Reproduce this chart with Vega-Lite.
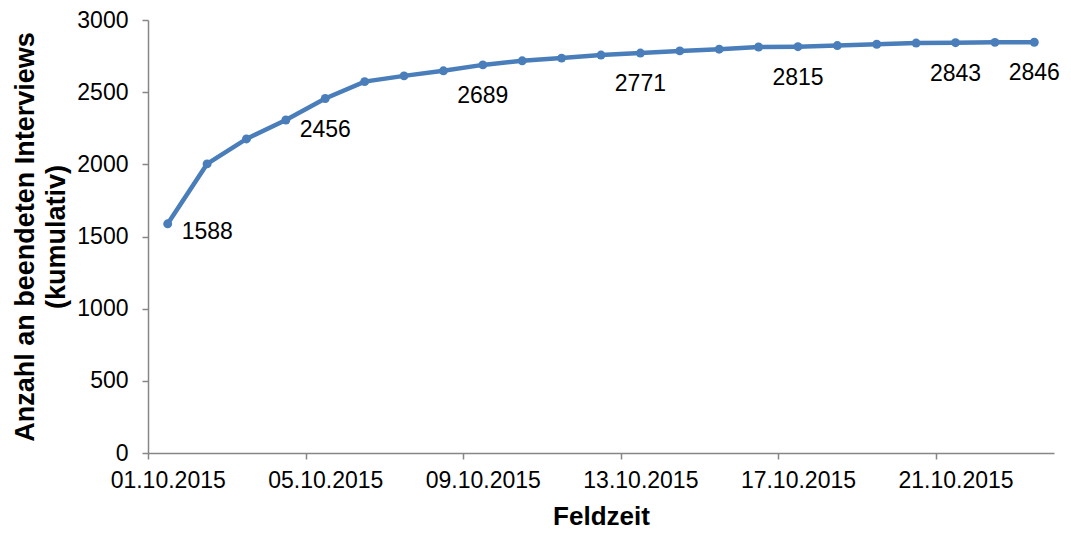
{
  "$schema": "https://vega.github.io/schema/vega-lite/v6.json",
  "width": 906,
  "height": 433,
  "autosize": "none",
  "padding": {"left": 148, "top": 20, "right": 17, "bottom": 81},
  "background": "white",
  "config": {"view": {"stroke": null}, "font": "Liberation Sans"},
  "data": {"values": [
    {"day": "2015-10-01T12:00:00Z", "value": 1588, "labelled": true},
    {"day": "2015-10-02T12:00:00Z", "value": 2003, "labelled": false},
    {"day": "2015-10-03T12:00:00Z", "value": 2176, "labelled": false},
    {"day": "2015-10-04T12:00:00Z", "value": 2307, "labelled": false},
    {"day": "2015-10-05T12:00:00Z", "value": 2456, "labelled": true},
    {"day": "2015-10-06T12:00:00Z", "value": 2573, "labelled": false},
    {"day": "2015-10-07T12:00:00Z", "value": 2613, "labelled": false},
    {"day": "2015-10-08T12:00:00Z", "value": 2648, "labelled": false},
    {"day": "2015-10-09T12:00:00Z", "value": 2689, "labelled": true},
    {"day": "2015-10-10T12:00:00Z", "value": 2717, "labelled": false},
    {"day": "2015-10-11T12:00:00Z", "value": 2736, "labelled": false},
    {"day": "2015-10-12T12:00:00Z", "value": 2757, "labelled": false},
    {"day": "2015-10-13T12:00:00Z", "value": 2771, "labelled": true},
    {"day": "2015-10-14T12:00:00Z", "value": 2786, "labelled": false},
    {"day": "2015-10-15T12:00:00Z", "value": 2798, "labelled": false},
    {"day": "2015-10-16T12:00:00Z", "value": 2813, "labelled": false},
    {"day": "2015-10-17T12:00:00Z", "value": 2815, "labelled": true},
    {"day": "2015-10-18T12:00:00Z", "value": 2823, "labelled": false},
    {"day": "2015-10-19T12:00:00Z", "value": 2832, "labelled": false},
    {"day": "2015-10-20T12:00:00Z", "value": 2840, "labelled": false},
    {"day": "2015-10-21T12:00:00Z", "value": 2843, "labelled": true},
    {"day": "2015-10-22T12:00:00Z", "value": 2845, "labelled": false},
    {"day": "2015-10-23T12:00:00Z", "value": 2846, "labelled": true}
  ]},
  "encoding": {
    "x": {
      "field": "day", "type": "temporal",
      "scale": {"type": "utc", "domain": [
        {"year": 2015, "month": 10, "date": 1, "utc": true},
        {"year": 2015, "month": 10, "date": 24, "utc": true}
      ]},
      "axis": {
        "values": [
          {"year": 2015, "month": 10, "date": 1, "utc": true},
          {"year": 2015, "month": 10, "date": 5, "utc": true},
          {"year": 2015, "month": 10, "date": 9, "utc": true},
          {"year": 2015, "month": 10, "date": 13, "utc": true},
          {"year": 2015, "month": 10, "date": 17, "utc": true},
          {"year": 2015, "month": 10, "date": 21, "utc": true}
        ],
        "labelExpr": "utcFormat(datum.value, '%d.%m.%Y')",
        "labelOffset": 19.7, "labelFontSize": 23, "labelColor": "black",
        "labelPadding": 10, "labelOverlap": false, "labelFlush": false,
        "grid": false, "domainColor": "#868686", "tickColor": "#868686",
        "tickSize": 6, "domainWidth": 1.5, "tickWidth": 1.5,
        "title": "Feldzeit", "titleFontSize": 26, "titleFontWeight": "bold",
        "titleColor": "black", "titlePadding": 11
      }
    },
    "y": {
      "field": "value", "type": "quantitative",
      "scale": {"domain": [0, 3000]},
      "axis": {
        "values": [0, 500, 1000, 1500, 2000, 2500, 3000],
        "format": "d",
        "labelFontSize": 23, "labelColor": "black", "labelPadding": 14,
        "grid": false, "domainColor": "#868686", "tickColor": "#868686",
        "tickSize": 6, "domainWidth": 1.5, "tickWidth": 1.5,
        "title": ["Anzahl an beendeten Interviews", "(kumulativ)"],
        "titleFontSize": 27, "titleFontWeight": "bold", "titleColor": "black",
        "titleLineHeight": 31, "titlePadding": 6
      }
    }
  },
  "layer": [
    {"mark": {"type": "line", "color": "#4A7EBB", "strokeWidth": 4.5,
      "point": {"size": 80, "filled": true, "color": "#4A7EBB", "opacity": 1}}},
    {"transform": [{"filter": "datum.labelled && datum.value != 1588"}],
      "mark": {"type": "text", "fontSize": 23, "color": "black", "align": "center", "baseline": "middle", "dy": 31},
      "encoding": {"text": {"field": "value", "type": "quantitative", "format": "d"}}},
    {"transform": [{"filter": "datum.value == 1588"}],
      "mark": {"type": "text", "fontSize": 23, "color": "black", "align": "left", "baseline": "middle", "dx": 14, "dy": 8},
      "encoding": {"text": {"field": "value", "type": "quantitative", "format": "d"}}}
  ]
}
